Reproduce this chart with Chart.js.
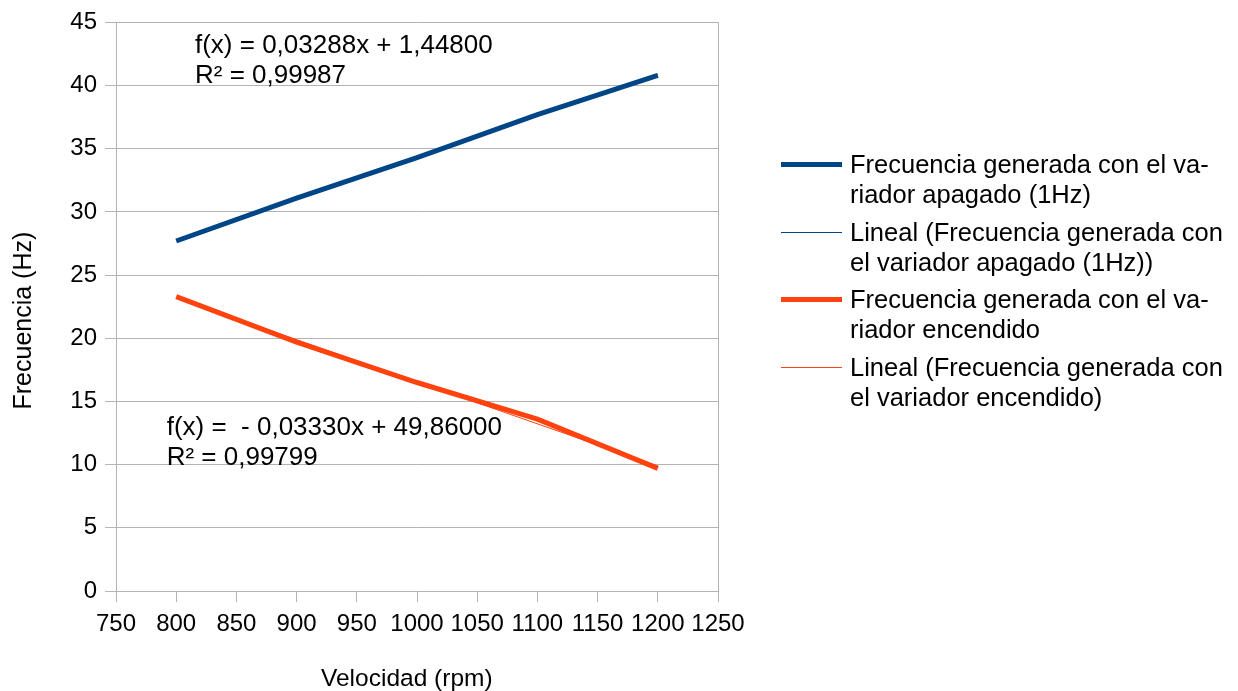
<!DOCTYPE html>
<html>
<head>
<meta charset="utf-8">
<script src="https://cdn.jsdelivr.net/npm/chart.js@4/dist/chart.umd.min.js"></script>
<style>
  html, body { margin: 0; padding: 0; background: #ffffff; }
  #wrap { position: relative; width: 1238px; height: 691px; overflow: hidden; }
  #chart { position: absolute; left: 0; top: 0; }
  #legend { position: absolute; left: 0; top: 0; width: 1238px; height: 691px; pointer-events: none;
            font-family: "Liberation Sans", Arial, sans-serif; font-size: 25.5px; color: #000; }
  .item { position: absolute; left: 781px; }
  .sample { position: absolute; left: 0; width: 61px; }
  .text { position: absolute; left: 69px; line-height: 30px; white-space: nowrap; }
</style>
</head>
<body>
<div id="wrap">
  <canvas id="chart" width="1238" height="691"></canvas>
  <div id="legend"></div>
</div>
<script>
// ---- Data ----
const velocidad = [800, 900, 1000, 1100, 1200];
const frecApagado = [27.7, 31.1, 34.3, 37.7, 40.8];
const frecEncendido = [23.3, 19.7, 16.5, 13.6, 9.7];

// Linear trend lines (end points of the displayed regression lines)
const trendX = [800, 1200];
const trendApagado = [27.75, 40.90];
const trendEncendido = [23.22, 9.90];

// Axis ranges / ticks
const xMin = 750, xMax = 1250, xStep = 50;
const yMin = 0, yMax = 45, yStep = 5;

// Texts
const seriesNames = [
  "Frecuencia generada con el variador apagado (1Hz)",
  "Lineal (Frecuencia generada con el variador apagado (1Hz))",
  "Frecuencia generada con el variador encendido",
  "Lineal (Frecuencia generada con el variador encendido)"
];
const legendLines = [
  ["Frecuencia generada con el va-", "riador apagado (1Hz)"],
  ["Lineal (Frecuencia generada con", "el variador apagado (1Hz))"],
  ["Frecuencia generada con el va-", "riador encendido"],
  ["Lineal (Frecuencia generada con", "el variador encendido)"]
];
const equationTexts = [
  ["f(x) = 0,03288x + 1,44800", "R² = 0,99987"],
  ["f(x) =  - 0,03330x + 49,86000", "R² = 0,99799"]
];
const xTitle = "Velocidad (rpm)   ";
const yTitle = "Frecuencia (Hz)    ";

// ---- Styles ----
const BLUE = "#004586";
const ORANGE = "#ff420e";
const GRID = "#b3b3b3";
const FONT = "'Liberation Sans', Arial, sans-serif";

function pts(xs, ys) { return xs.map((x, i) => ({ x: x, y: ys[i] })); }

const seriesStyles = [
  { color: BLUE, width: 5 },
  { color: BLUE, width: 1 },
  { color: ORANGE, width: 5 },
  { color: ORANGE, width: 1 }
];

// Equation labels anchored in data coordinates
const equationPlugin = {
  id: "equations",
  afterDatasetsDraw(chart, args, opts) {
    const { ctx, scales: { x, y } } = chart;
    ctx.save();
    ctx.font = "26px " + FONT;
    ctx.fillStyle = "#000";
    ctx.textAlign = "left";
    ctx.textBaseline = "middle";
    opts.anchors.forEach((a, i) => {
      const px = x.getPixelForValue(a.x);
      const py = y.getPixelForValue(a.y);
      equationTexts[i].forEach((line, j) => ctx.fillText(line, px, py + j * opts.lineGap));
    });
    ctx.restore();
  }
};

new Chart(document.getElementById("chart"), {
  type: "scatter",
  data: {
    datasets: [
      { label: seriesNames[0], data: pts(velocidad, frecApagado), showLine: true,
        borderColor: BLUE, backgroundColor: BLUE, borderWidth: 5, pointRadius: 0, order: 4 },
      { label: seriesNames[1], data: pts(trendX, trendApagado), showLine: true,
        borderColor: BLUE, backgroundColor: BLUE, borderWidth: 1, pointRadius: 0, order: 2 },
      { label: seriesNames[2], data: pts(velocidad, frecEncendido), showLine: true,
        borderColor: ORANGE, backgroundColor: ORANGE, borderWidth: 5, pointRadius: 0, order: 3 },
      { label: seriesNames[3], data: pts(trendX, trendEncendido), showLine: true,
        borderColor: ORANGE, backgroundColor: ORANGE, borderWidth: 1, pointRadius: 0, order: 1 }
    ]
  },
  options: {
    responsive: false,
    animation: false,
    layout: { padding: { left: 0, right: 520, top: 22, bottom: 0 } },
    plugins: {
      legend: { display: false },
      tooltip: { enabled: false },
      equations: {
        anchors: [ { x: 815.6, y: 43.18 }, { x: 792.1, y: 12.89 } ],
        lineGap: 30
      }
    },
    scales: {
      x: {
        type: "linear",
        min: xMin, max: xMax,
        afterFit: (s) => { s.height = 100; },
        ticks: { stepSize: xStep, autoSkip: false, maxRotation: 0, color: "#000",
                 padding: 8, font: { family: FONT, size: 24 },
                 callback: (v) => String(v) },
        grid: {
          color: (c) => (c.tick && c.tick.value === xMax) ? GRID : "rgba(0,0,0,0)",
          tickColor: GRID, tickLength: 11, lineWidth: 1
        },
        border: { color: GRID, width: 1 },
        title: { display: true, text: xTitle, color: "#000",
                 font: { family: FONT, size: 24.5, lineHeight: 1 }, padding: { top: 0, bottom: 0 } }
      },
      y: {
        min: yMin, max: yMax,
        afterFit: (s) => { s.width = 116; },
        ticks: { stepSize: yStep, color: "#000", padding: 8, font: { family: FONT, size: 24 },
                 callback: (v) => String(v) },
        grid: { color: GRID, tickColor: GRID, tickLength: 11, lineWidth: 1 },
        border: { color: GRID, width: 1 },
        title: { display: true, text: yTitle, color: "#000",
                 font: { family: FONT, size: 25, lineHeight: 1 }, padding: { top: 12, bottom: 0 } }
      }
    }
  },
  plugins: [equationPlugin]
});

// ---- HTML legend (wrapped text like the reference) ----
const legend = document.getElementById("legend");
const legendTop = 149, legendStep = 67.7;
legendLines.forEach((lines, i) => {
  const item = document.createElement("div");
  item.className = "item";
  item.style.top = Math.round(legendTop + i * legendStep) + "px";
  const st = seriesStyles[i];
  const sample = document.createElement("div");
  sample.className = "sample";
  sample.style.height = st.width + "px";
  sample.style.top = Math.round(15 - st.width / 2) + "px";
  sample.style.background = st.color;
  item.appendChild(sample);
  const text = document.createElement("div");
  text.className = "text";
  text.title = seriesNames[i];
  text.innerHTML = lines.map(l => l.replace(/&/g, "&amp;").replace(/</g, "&lt;")).join("<br>");
  item.appendChild(text);
  legend.appendChild(item);
});
</script>
</body>
</html>
